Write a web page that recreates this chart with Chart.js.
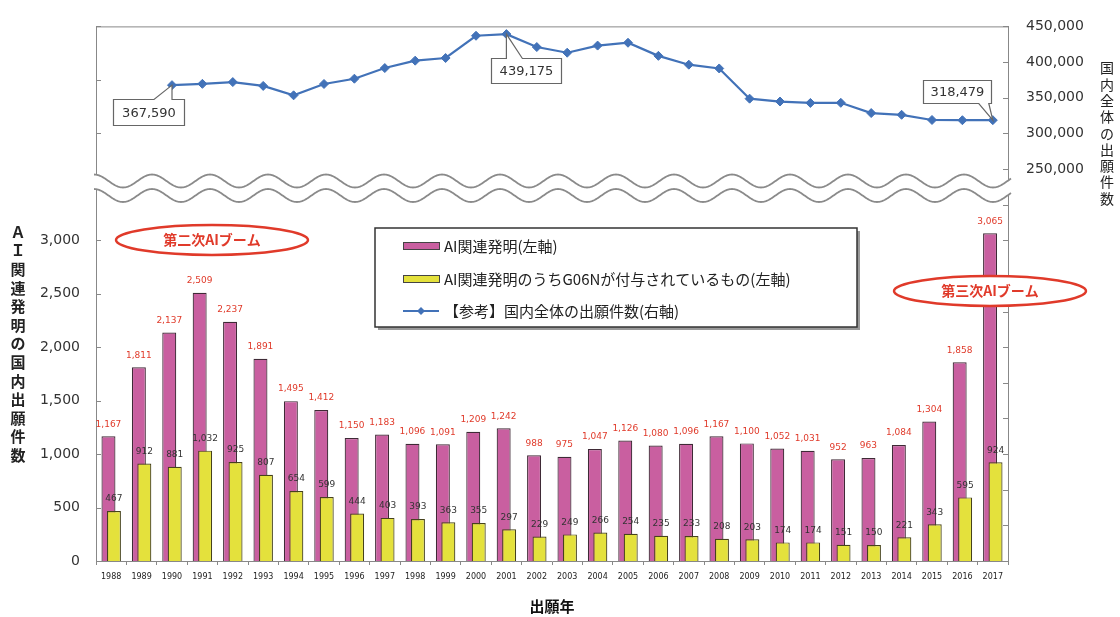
<!DOCTYPE html>
<html lang="ja">
<head>
<meta charset="utf-8">
<script src="https://cdn.jsdelivr.net/npm/chart.js@4/dist/chart.umd.min.js"></script>
<style>
  html, body { margin: 0; padding: 0; background: #fff; }
  #wrap { width: 1120px; height: 617px; position: relative; }
</style>
</head>
<body>
<div id="wrap"><canvas id="chart"></canvas></div>
<script>
// Data
const years = ['1988', '1989', '1990', '1991', '1992', '1993', '1994', '1995', '1996', '1997',
  '1998', '1999', '2000', '2001', '2002', '2003', '2004', '2005', '2006', '2007',
  '2008', '2009', '2010', '2011', '2012', '2013', '2014', '2015', '2016', '2017'];

const aiApps = [1167, 1811, 2137, 2509, 2237, 1891, 1495, 1412, 1150, 1183,
  1096, 1091, 1209, 1242, 988, 975, 1047, 1126, 1080, 1096,
  1167, 1100, 1052, 1031, 952, 963, 1084, 1304, 1858, 3065];

const g06nApps = [467, 912, 881, 1032, 925, 807, 654, 599, 444, 403,
  393, 363, 355, 297, 229, 249, 266, 254, 235, 233,
  208, 203, 174, 174, 151, 150, 221, 343, 595, 924];

// line starts in 1990
const domesticApps = [null, null, 367590, 369396, 371894, 366486, 353301, 369215, 376615, 391572,
  401932, 405655, 436865, 439175, 421044, 413092, 423081, 427078, 408674, 396291,
  391002, 348596, 344598, 342610, 342796, 328436, 325989, 318721, 318381, 318479];

const leftTicksShown = [0, 500, 1000, 1500, 2000, 2500, 3000];
const rightTicksShown = [250000, 300000, 350000, 400000, 450000];

const leftTitle = ['Ａ', 'Ｉ', '関', '連', '発', '明', 'の', '国', '内', '出', '願', '件', '数'];
const rightTitle = ['国', '内', '全', '体', 'の', '出', '願', '件', '数'];

const PINK = '#c95fa0';
const YELLOW = '#e4e13c';
const BLUE = '#4272b8';
const RED = '#e03a2a';
const JP = "'Noto Sans CJK JP', sans-serif";
const NUM = "'DejaVu Sans', sans-serif";

const fmt = v => v.toLocaleString('en-US');

// the two bar series overlap, each nudged a little off the year centre
const firstYear = +years[0], lastYear = +years[years.length - 1];
const NUDGE = 0.09;

function wavePath(ctx, x0, x1, base, amp, period) {
  for (let x = x0; x <= x1; x += 1) {
    const y = base - amp * Math.cos(2 * Math.PI * (x - x0) / period);
    if (x === x0) ctx.moveTo(x, y); else ctx.lineTo(x, y);
  }
}

const decorations = {
  id: 'decorations',
  afterDatasetsDraw(chart) {
    const ctx = chart.ctx;
    ctx.save();
    ctx.textAlign = 'center';
    ctx.textBaseline = 'middle';
    ctx.font = '9px ' + NUM;
    ctx.fillStyle = RED;
    chart.getDatasetMeta(0).data.forEach((bar, i) => {
      ctx.fillText(fmt(aiApps[i]), bar.x, bar.y - 12);
    });
    ctx.fillStyle = '#333';
    chart.getDatasetMeta(1).data.forEach((bar, i) => {
      ctx.fillText(fmt(g06nApps[i]), bar.x, bar.y - 12);
    });
    ctx.restore();
  },
  afterDraw(chart) {
    const ctx = chart.ctx;
    const area = chart.chartArea;
    const y = chart.scales.y;
    const y1 = chart.scales.y1;
    ctx.save();

    // inward tick marks on both value axes
    ctx.strokeStyle = '#888';
    ctx.lineWidth = 1;
    ctx.beginPath();
    y.ticks.forEach(t => {
      const py = Math.round(y.getPixelForValue(t.value)) + 0.5;
      ctx.moveTo(area.left, py); ctx.lineTo(area.left + 5, py);
    });
    y1.ticks.forEach(t => {
      const py = Math.round(y1.getPixelForValue(t.value)) + 0.5;
      ctx.moveTo(area.right - 5, py); ctx.lineTo(area.right, py);
    });
    // top frame
    ctx.moveTo(area.left, area.top + 0.5); ctx.lineTo(area.right, area.top + 0.5);
    ctx.stroke();

    // axis break
    const bx0 = area.left - 2, bx1 = area.right + 3;
    ctx.beginPath();
    wavePath(ctx, bx0, bx1, 181, 6.5, 58);
    for (let x = bx1; x >= bx0; x -= 1) {
      ctx.lineTo(x, 195.5 - 6.5 * Math.cos(2 * Math.PI * (x - bx0) / 58));
    }
    ctx.closePath();
    ctx.fillStyle = '#fff';
    ctx.fill();
    ctx.strokeStyle = '#8a8a8a';
    ctx.lineWidth = 1.8;
    ctx.beginPath(); wavePath(ctx, bx0, bx1, 181, 6.5, 58); ctx.stroke();
    ctx.beginPath(); wavePath(ctx, bx0, bx1, 195.5, 6.5, 58); ctx.stroke();

    // callouts on the line
    const pts = chart.getDatasetMeta(2).data;
    const callouts = [
      { i: 2, bx: -59, by: 14, w: 71, h: 26, p1: -18, p2: 0, below: true },
      { i: 13, bx: -15, by: 24, w: 70, h: 25, p1: 0, p2: 16, below: true },
      { i: 29, bx: -70, by: -40, w: 68, h: 23, p1: -14, p2: -4, below: false }
    ];
    callouts.forEach(c => {
      const pt = pts[c.i];
      const x = Math.round(pt.x + c.bx) + 0.5, yy = Math.round(pt.y + c.by) + 0.5;
      const edge = c.below ? yy : yy + c.h;
      ctx.beginPath();
      ctx.moveTo(x, yy);
      if (c.below) {
        ctx.lineTo(pt.x + c.p1, edge); ctx.lineTo(pt.x, pt.y); ctx.lineTo(pt.x + c.p2, edge);
        ctx.lineTo(x + c.w, yy); ctx.lineTo(x + c.w, yy + c.h); ctx.lineTo(x, yy + c.h);
      } else {
        ctx.lineTo(x + c.w, yy); ctx.lineTo(x + c.w, yy + c.h);
        ctx.lineTo(pt.x + c.p2, edge); ctx.lineTo(pt.x, pt.y); ctx.lineTo(pt.x + c.p1, edge);
        ctx.lineTo(x, yy + c.h);
      }
      ctx.closePath();
      ctx.fillStyle = '#fff';
      ctx.fill();
      ctx.strokeStyle = '#666';
      ctx.lineWidth = 1.2;
      ctx.stroke();
      ctx.fillStyle = '#333';
      ctx.font = '13px ' + NUM;
      ctx.textAlign = 'center';
      ctx.textBaseline = 'middle';
      ctx.fillText(fmt(domesticApps[c.i]), x + c.w / 2, yy + c.h / 2 + 1);
    });

    // legend box
    const lx = 375, ly = 228, lw = 482, lh = 99;
    ctx.fillStyle = '#999';
    ctx.fillRect(lx + 3, ly + 3, lw, lh);
    ctx.fillStyle = '#fff';
    ctx.fillRect(lx, ly, lw, lh);
    ctx.strokeStyle = '#333';
    ctx.lineWidth = 1.5;
    ctx.strokeRect(lx, ly, lw, lh);
    const ds = chart.data.datasets;
    const items = [
      { label: ds[0].label, kind: 'bar', fill: PINK, y: 246 },
      { label: ds[1].label, kind: 'bar', fill: YELLOW, y: 279 },
      { label: ds[2].label, kind: 'line', fill: BLUE, y: 311 }
    ];
    ctx.font = '15px ' + JP;
    ctx.textAlign = 'left';
    ctx.textBaseline = 'middle';
    items.forEach(it => {
      if (it.kind === 'bar') {
        ctx.fillStyle = it.fill;
        ctx.fillRect(403, it.y - 3, 36, 6);
        ctx.strokeStyle = '#444';
        ctx.lineWidth = 1;
        ctx.strokeRect(403.5, it.y - 3.5, 36, 7);
      } else {
        ctx.strokeStyle = it.fill;
        ctx.lineWidth = 2;
        ctx.beginPath(); ctx.moveTo(403, it.y); ctx.lineTo(439, it.y); ctx.stroke();
        ctx.fillStyle = it.fill;
        ctx.beginPath();
        ctx.moveTo(421, it.y - 4); ctx.lineTo(425, it.y); ctx.lineTo(421, it.y + 4); ctx.lineTo(417, it.y);
        ctx.closePath(); ctx.fill();
      }
      ctx.fillStyle = '#222';
      ctx.fillText(it.label, 444, it.y);
    });

    // boom annotations
    [{ x: 212, y: 240, text: '第二次AIブーム' }, { x: 990, y: 291, text: '第三次AIブーム' }].forEach(b => {
      ctx.beginPath();
      ctx.ellipse(b.x, b.y, 96, 15, 0, 0, Math.PI * 2);
      ctx.fillStyle = '#fff';
      ctx.fill();
      ctx.strokeStyle = RED;
      ctx.lineWidth = 2.5;
      ctx.stroke();
      ctx.fillStyle = RED;
      ctx.font = 'bold 14px ' + JP;
      ctx.textAlign = 'center';
      ctx.fillText(b.text, b.x, b.y);
    });

    // vertical axis titles
    ctx.fillStyle = '#222';
    ctx.textAlign = 'center';
    ctx.font = 'bold 15px ' + JP;
    leftTitle.forEach((ch, i) => ctx.fillText(ch, 18, 232 + i * 18.6));
    ctx.font = '14px ' + JP;
    rightTitle.forEach((ch, i) => ctx.fillText(ch, 1107, 68 + i * 16.3));
    ctx.restore();
  }
};

const barOpts = { grouped: false, categoryPercentage: 0.46, barPercentage: 1, borderWidth: 1.2 };
const hiddenX = shift => ({
  type: 'linear',
  display: false,
  offset: false,
  grid: { offset: false },
  min: firstYear - 0.5 + shift,
  max: lastYear + 0.5 + shift,
  afterBuildTicks: s => { s.ticks = []; }
});

new Chart(document.getElementById('chart'), {
  type: 'bar',
  data: {
    labels: years,
    datasets: [
      { label: 'AI関連発明(左軸)', data: aiApps, backgroundColor: PINK, borderColor: '#3f2a36',
        xAxisID: 'xPink', yAxisID: 'y', order: 2, ...barOpts },
      { label: 'AI関連発明のうちG06Nが付与されているもの(左軸)', data: g06nApps, backgroundColor: YELLOW,
        borderColor: '#46421c', xAxisID: 'xYellow', yAxisID: 'y', order: 1, ...barOpts },
      { type: 'line', label: '【参考】国内全体の出願件数(右軸)', data: domesticApps, xAxisID: 'x', yAxisID: 'y1',
        order: 0, borderColor: BLUE, backgroundColor: BLUE, borderWidth: 2.2, tension: 0,
        pointStyle: 'rectRot', pointRadius: 4.5, pointBorderWidth: 1 }
    ]
  },
  options: {
    responsive: true,
    maintainAspectRatio: false,
    animation: false,
    layout: { padding: { top: 15, left: 0, right: 0, bottom: 0 } },
    plugins: { legend: { display: false }, tooltip: { enabled: false } },
    scales: {
      x: {
        type: 'category',
        offset: true,
        grid: { display: true, offset: true, drawOnChartArea: false, drawTicks: true, tickLength: 4, color: '#888' },
        border: { display: true, color: '#888', width: 1 },
        ticks: { autoSkip: false, maxRotation: 0, padding: 7, color: '#222', font: { size: 8, family: NUM } },
        title: { display: true, text: '出願年', color: '#111', font: { size: 15, weight: 'bold', family: JP },
          padding: { top: 0, bottom: 2 } },
        afterFit: s => { s.height = 56; }
      },
      xPink: hiddenX(NUDGE),
      xYellow: hiddenX(-NUDGE),
      y: {
        position: 'left',
        min: 0,
        max: 5000,
        grid: { display: false, drawTicks: false },
        border: { display: true, color: '#888', width: 1 },
        ticks: {
          stepSize: 500,
          padding: 16,
          color: '#333',
          font: { size: 14, family: NUM },
          callback: v => leftTicksShown.includes(v) ? fmt(v) : ''
        },
        afterFit: s => { s.width = 96; }
      },
      y1: {
        position: 'right',
        min: -300000,
        max: 450000,
        grid: { display: false, drawTicks: false },
        border: { display: true, color: '#888', width: 1 },
        ticks: {
          stepSize: 50000,
          padding: 18,
          color: '#333',
          font: { size: 14, family: NUM },
          callback: v => rightTicksShown.includes(v) ? fmt(v) : ''
        },
        afterFit: s => { s.width = 112; }
      }
    }
  },
  plugins: [decorations]
});
</script>
</body>
</html>
